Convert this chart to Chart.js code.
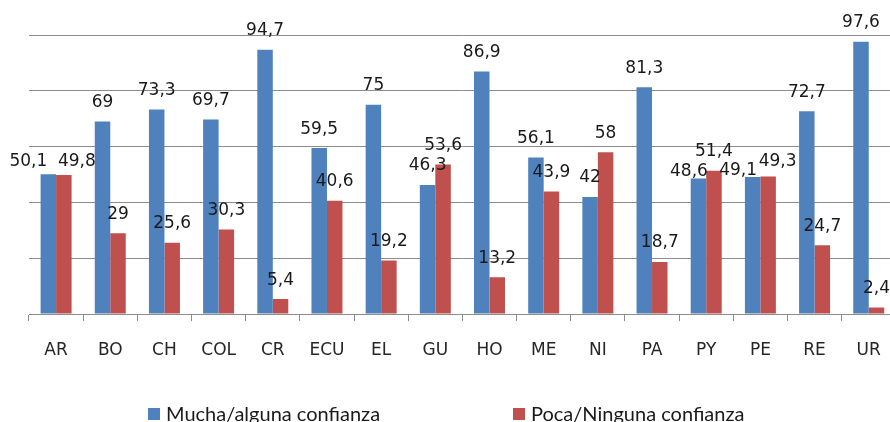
<!DOCTYPE html>
<html>
<head>
<meta charset="utf-8">
<script src="https://cdn.jsdelivr.net/npm/chart.js@4.4.0/dist/chart.umd.min.js"></script>
<style>
    html, body { margin: 0; padding: 0; overflow: hidden; background: #ffffff; }
    #wrap { position: absolute; left: 0; top: 0; width: 900px; height: 422px; }
    #legend { position: absolute; left: 0; top: 0; width: 890px; height: 422px; pointer-events: none; }
    .swatch { position: absolute; width: 12px; height: 12px; }
    .ltext { position: absolute; font-family: Lato, sans-serif; font-size: 20px; line-height: 24px; color: #1a1a1a; white-space: nowrap; }
</style>
</head>
<body>
<div id="wrap"><canvas id="myChart" width="900" height="422"></canvas></div>
<div id="legend"></div>
<script>
// Categories (countries)
const categories = ['AR', 'BO', 'CH', 'COL', 'CR', 'ECU', 'EL', 'GU', 'HO', 'ME', 'NI', 'PA', 'PY', 'PE', 'RE', 'UR'];

// Series values
const muchaValues = [50.1, 69, 73.3, 69.7, 94.7, 59.5, 75, 46.3, 86.9, 56.1, 42, 81.3, 48.6, 49.1, 72.7, 97.6];
const pocaValues = [49.8, 29, 25.6, 30.3, 5.4, 40.6, 19.2, 53.6, 13.2, 43.9, 58, 18.7, 51.4, 49.3, 24.7, 2.4];

const seriesNames = ['Mucha/alguna confianza', 'Poca/Ninguna confianza'];

// y axis range (ticks not shown, only gridlines)
const yMin = 0;
const yMax = 100;
const yStep = 20;

const FONT = "'DejaVu Sans', Verdana, sans-serif";

// labels that were nudged by hand in the original to avoid overlaps
// key: datasetIndex-categoryIndex -> [dx, dy]
const labelNudges = {
    '0-0': [-20, 6.5],
    '1-0': [13, 5.5],
    '0-12': [-9.5, 12.5],
    '0-13': [-14.5, 12.5],
    '1-13': [9.5, 4]
};

function initChart() {
    const ctx = document.getElementById('myChart');

    const chartData = {
        labels: categories,
        datasets: [
            {
                label: seriesNames[0],
                data: muchaValues,
                backgroundColor: '#4F81BD',
                borderWidth: 0,
                categoryPercentage: 0.572,
                barPercentage: 1.0
            },
            {
                label: seriesNames[1],
                data: pocaValues,
                backgroundColor: '#C0504D',
                borderWidth: 0,
                categoryPercentage: 0.572,
                barPercentage: 1.0
            }
        ]
    };

    const config = {
        type: 'bar',
        data: chartData,
        options: {
            responsive: false,
            animation: false,
            plugins: {
                legend: { display: false },
                tooltip: { enabled: false },
                title: { display: false }
            },
            layout: {
                padding: { top: 35, right: 4, bottom: 42.5, left: 29 }
            },
            scales: {
                x: {
                    grid: {
                        offset: true,
                        drawOnChartArea: false,
                        drawTicks: true,
                        tickLength: 7,
                        color: '#8c8c8c'
                    },
                    border: { display: true, color: '#8c8c8c' },
                    ticks: {
                        color: '#262626',
                        padding: 19,
                        maxRotation: 0,
                        autoSkip: false,
                        font: { size: 17, family: FONT }
                    }
                },
                y: {
                    min: yMin,
                    max: yMax,
                    ticks: { stepSize: yStep, display: false },
                    grid: { color: '#8c8c8c', drawTicks: false },
                    border: { display: false }
                }
            }
        },
        plugins: [{
            id: 'valueLabels',
            afterDatasetsDraw: function(chart) {
                const c = chart.ctx;
                c.save();
                c.fillStyle = '#1a1a1a';
                c.font = '17px ' + FONT;
                c.textAlign = 'center';
                c.textBaseline = 'alphabetic';
                chart.data.datasets.forEach((dataset, i) => {
                    const meta = chart.getDatasetMeta(i);
                    meta.data.forEach((bar, index) => {
                        const nudge = labelNudges[i + '-' + index] || [0, 0];
                        const txt = String(dataset.data[index]).replace('.', ',');
                        c.fillText(txt, bar.x + nudge[0], bar.y - 14.5 + nudge[1]);
                    });
                });
                c.restore();
            }
        }]
    };

    const chart = new Chart(ctx, config);

    // html legend, built from the datasets
    const legend = document.getElementById('legend');
    const legendX = [148, 513];
    chart.data.datasets.forEach((ds, i) => {
        const sw = document.createElement('div');
        sw.className = 'swatch';
        sw.style.left = legendX[i] + 'px';
        sw.style.top = '408px';
        sw.style.background = ds.backgroundColor;
        legend.appendChild(sw);
        const tx = document.createElement('div');
        tx.className = 'ltext';
        tx.style.left = (legendX[i] + 18) + 'px';
        tx.style.top = '401px';
        tx.textContent = ds.label;
        legend.appendChild(tx);
    });
}

initChart();
</script>
</body>
</html>
